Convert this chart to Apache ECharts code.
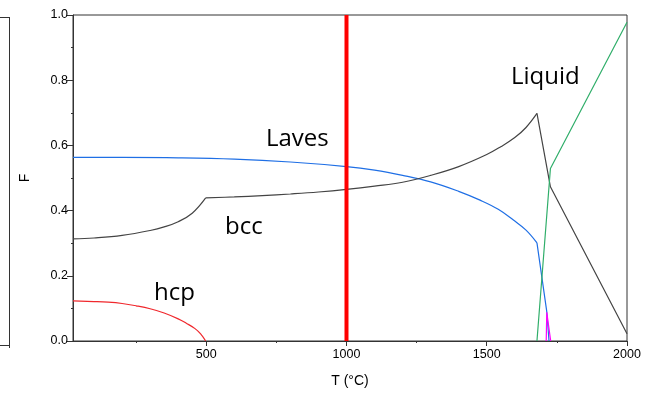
<!DOCTYPE html>
<html>
<head>
<meta charset="UTF-8">
<script src="https://cdn.jsdelivr.net/npm/echarts@6/dist/echarts.min.js"></script>
</head>
<body style="margin:0">
<div id="main" style="width:656px;height:395px;"></div>
<script>
// T (°C) , F; curves split at their kinks
var hcp = [[25,0.123],[100,0.121],[150,0.119],[200,0.115],[250,0.108],[300,0.099],[350,0.086],[400,0.068],[430,0.054],[460,0.038],[480,0.022],[498,0]];
var bccCurve = [[25,0.563],[200,0.563],[400,0.562],[600,0.558],[800,0.549],[1000,0.535],[1100,0.524],[1200,0.508],[1300,0.488],[1400,0.459],[1476,0.432],[1541,0.404],[1595,0.371],[1640,0.340],[1679,0.301]];
var bccTail = [[1679,0.301],[1714,0.090],[1722,0]];
var lavesLow = [[25,0.313],[100,0.316],[200,0.324],[300,0.339],[350,0.350],[400,0.366],[450,0.392],[498,0.439]];
var lavesMid = [[498,0.439],[600,0.442],[700,0.446],[800,0.451],[900,0.457],[1000,0.465],[1100,0.475],[1200,0.487],[1300,0.508],[1400,0.535],[1500,0.572],[1550,0.596],[1600,0.624],[1640,0.655],[1679,0.698]];
var lavesHigh = [[1679,0.698],[1727,0.473],[2000,0.022]];
var liquid = [[1679,0],[1727,0.529],[2000,0.978]];
var other = [[1712,0],[1714,0.088],[1728,0]];
var marker = [[1000,0],[1000,1]];

var xMajor = [500,1000,1500,2000];
var xMinor = [250,750,1250,1750];

var chart = echarts.init(document.getElementById('main'));
var tickFont = {fontFamily:'Liberation Sans', fontSize:12.5, color:'#000'};
var lab = function(t, x, y) {
  return {type:'text', left:x, top:y, style:{text:t, fontFamily:'Open Sans', fontSize:24, fill:'#000'}};
};
function ln(x1,y1,x2,y2){
  return {type:'line', shape:{x1:x1,y1:y1,x2:x2,y2:y2}, style:{stroke:'#333', lineWidth:1}};
}
function curve(d, c, w, sm){
  return {type:'line', data:d, showSymbol:false, smooth:sm ? 0.4 : false, lineStyle:{color:c, width:w || 1.2}};
}

chart.setOption({
  animation:false,
  grid:{left:73, top:15, width:554, height:326, show:true, borderColor:'#333', borderWidth:1, backgroundColor:'transparent'},
  xAxis:[{
    type:'value', min:25, max:2000,
    name:'T (°C)', nameLocation:'middle', nameGap:33,
    nameTextStyle:{fontFamily:'Liberation Sans', fontSize:14, color:'#000'},
    axisLine:{lineStyle:{color:'#333'}},
    axisTick:{customValues:xMajor, length:5, lineStyle:{color:'#333'}},
    axisLabel:Object.assign({customValues:xMajor, margin:7, formatter:function(v){return String(v);}}, tickFont),
    splitLine:{show:false}
  },{
    type:'value', min:25, max:2000, position:'bottom',
    axisLine:{show:false},
    axisTick:{customValues:xMinor, length:2, lineStyle:{color:'#333'}},
    axisLabel:{show:false},
    splitLine:{show:false}
  }],
  yAxis:{
    type:'value', min:0, max:1, interval:0.2,
    name:'F', nameLocation:'middle', nameGap:41, nameRotate:90,
    nameTextStyle:{fontFamily:'Liberation Sans', fontSize:14, color:'#000'},
    axisLine:{show:true, lineStyle:{color:'#333'}},
    axisTick:{length:6, lineStyle:{color:'#333'}},
    minorTick:{show:true, splitNumber:2, length:2, lineStyle:{color:'#333'}},
    axisLabel:Object.assign({margin:5, formatter:function(v){return v.toFixed(1);}}, tickFont),
    splitLine:{show:false}
  },
  series:[
    curve(hcp, '#f0282d', 1.2, true),
    curve(bccCurve, '#1f6fe5', 1.2, true),
    curve(bccTail, '#1f6fe5', 1.2, false),
    curve(lavesLow, '#444', 1.2, true),
    curve(lavesMid, '#444', 1.2, true),
    curve(lavesHigh, '#444', 1.2, false),
    curve(liquid, '#30ae6a', 1.2, false),
    curve(other, '#ff00ff', 1.2, false),
    curve(marker, '#ff0000', 4, false)
  ],
  graphic:[
    lab('Liquid', 511, 65),
    lab('Laves', 266, 127),
    lab('bcc', 225, 215),
    lab('hcp', 154, 281),
    ln(0,17.5,9.5,17.5),
    ln(9.5,17,9.5,348),
    ln(0,345.5,9.5,345.5)
  ]
});
</script>
</body>
</html>
